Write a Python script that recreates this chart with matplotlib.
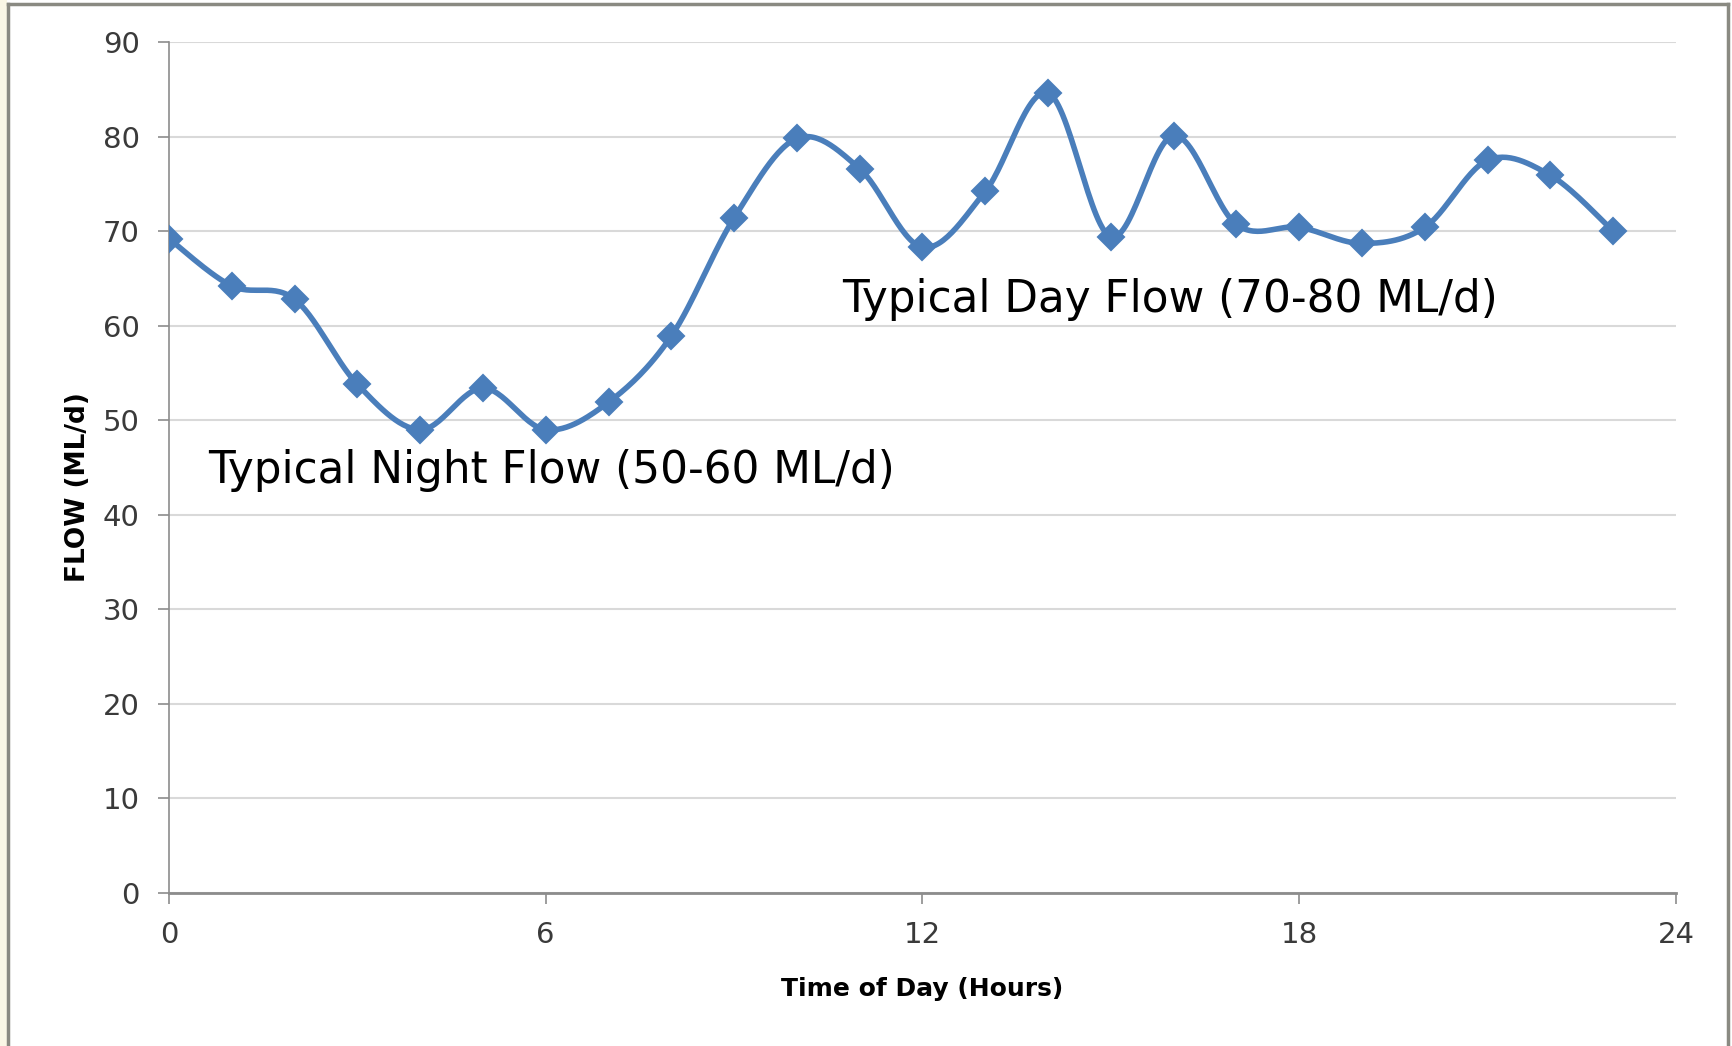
import numpy as np
import matplotlib
matplotlib.use("Agg")
import matplotlib.pyplot as plt
from matplotlib.patches import Rectangle
from matplotlib.lines import Line2D

# Hourly flow readings (ML/d)
hours = list(range(24))
flow = [69.2, 64.2, 62.8, 53.8, 49.0, 53.4, 49.0, 51.9, 58.9, 71.4, 79.8, 76.6,
        68.3, 74.2, 84.6, 69.4, 80.1, 70.7, 70.4, 68.7, 70.4, 77.5, 75.9, 70.0]

x_ticks = [0, 6, 12, 18, 24]
y_ticks = list(range(0, 91, 10))

night_label = "Typical Night Flow (50-60 ML/d)"
day_label = "Typical Day Flow (70-80 ML/d)"

LINE_COLOR = "#4a7ebb"
W, H = 1733, 1046


def smooth_curve(x, y, n=30):
    """Catmull-Rom curve through the points (like Excel's smoothed line)"""
    x = np.asarray(x, float)
    y = np.asarray(y, float)
    px = np.concatenate([[x[0]], x, [x[-1]]])
    py = np.concatenate([[y[0]], y, [y[-1]]])
    out_x, out_y = [], []
    t = np.linspace(0, 1, n, endpoint=False)
    for i in range(1, len(px) - 2):
        p0x, p1x, p2x, p3x = px[i - 1:i + 3]
        p0y, p1y, p2y, p3y = py[i - 1:i + 3]
        # bezier control points
        c1x, c1y = p1x + (p2x - p0x) / 6, p1y + (p2y - p0y) / 6
        c2x, c2y = p2x - (p3x - p1x) / 6, p2y - (p3y - p1y) / 6
        b = [(1 - t) ** 3, 3 * (1 - t) ** 2 * t, 3 * (1 - t) * t ** 2, t ** 3]
        out_x.append(b[0] * p1x + b[1] * c1x + b[2] * c2x + b[3] * p2x)
        out_y.append(b[0] * p1y + b[1] * c1y + b[2] * c2y + b[3] * p2y)
    out_x.append([x[-1]])
    out_y.append([y[-1]])
    return np.concatenate(out_x), np.concatenate(out_y)


fig = plt.figure(figsize=(W / 100, H / 100), dpi=100, facecolor="white")

# frame around the chart
fig.patches.append(Rectangle((0, 0), 7 / W, 1, transform=fig.transFigure,
                             facecolor="#faf7e6", edgecolor="none"))
for xs, ys in [([8.5, 8.5], [0, H - 3.5]), ([8.5, W - 4.5], [H - 3.5, H - 3.5]),
               ([W - 4.5, W - 4.5], [0, H - 3.5])]:
    fig.lines.append(Line2D(np.array(xs) / W, np.array(ys) / H, transform=fig.transFigure,
                            color="#8a8a82", lw=2.5))

ax = fig.add_axes([169 / W, 1 - 893 / H, (1676 - 169) / W, (893 - 42) / H])

sx, sy = smooth_curve(hours, flow)
ax.plot(sx, sy, color=LINE_COLOR, lw=4, solid_capstyle="round", zorder=3)
ax.plot(hours, flow, linestyle="none", marker="D", ms=13.5, color=LINE_COLOR,
        markeredgecolor=LINE_COLOR, markeredgewidth=1.5, zorder=4)

ax.set_xlim(0, 24)
ax.set_ylim(0, 90)
ax.set_xticks(x_ticks)
ax.set_yticks(y_ticks)
ax.yaxis.grid(True, color="#d9d9d9", lw=1.5)
ax.set_axisbelow(True)

for side in ["top", "right"]:
    ax.spines[side].set_visible(False)
ax.spines["left"].set_color("#8c8c8c")
ax.spines["bottom"].set_color("#8c8c8c")
ax.spines["left"].set_linewidth(1.2)
ax.spines["bottom"].set_linewidth(2)

ax.tick_params(axis="both", direction="out", length=8, width=1.2, color="#8c8c8c",
               labelsize=21, labelcolor="#3a3a3a")
ax.tick_params(axis="x", pad=12)
ax.tick_params(axis="y", pad=13)

ax.set_xlabel("Time of Day (Hours)", fontsize=18, fontweight="bold", labelpad=20)
ax.set_ylabel("FLOW (ML/d)", fontsize=19, fontweight="bold")
ax.yaxis.set_label_coords(-0.052, 0.477)

ax.text(0.62, 43.4, night_label, fontsize=31.5, va="baseline", ha="left", color="black")
ax.text(10.72, 61.4, day_label, fontsize=31.5, va="baseline", ha="left", color="black")

fig.savefig("out.png", dpi=100, facecolor=fig.get_facecolor())
